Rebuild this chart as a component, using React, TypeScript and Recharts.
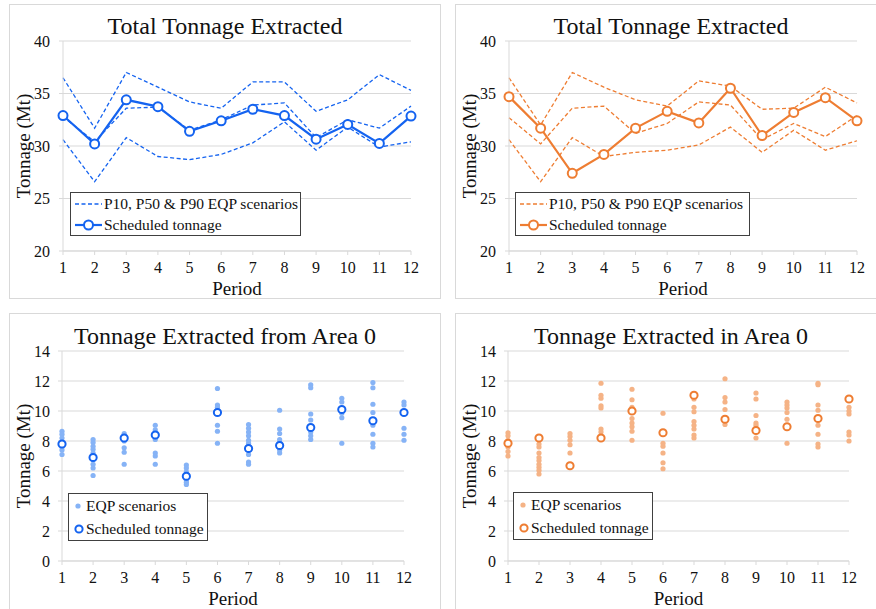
import React from "react";
import {
    CartesianGrid,
    Line,
    LineChart,
    Scatter,
    ScatterChart,
    XAxis,
    YAxis,
} from "recharts";

const periods = [1, 2, 3, 4, 5, 6, 7, 8, 9, 10, 11, 12];
const totalTicks = [20, 25, 30, 35, 40];
const areaTicks = [0, 2, 4, 6, 8, 10, 12, 14];

// total tonnage, blue panel (Mt)
const blueP90 = [36.5, 31.7, 37.0, 35.6, 34.2, 33.6, 36.1, 36.1, 33.3, 34.4, 36.8, 35.3];
const blueP50 = [32.8, 30.4, 33.6, 33.7, 31.5, 32.5, 33.9, 34.1, 30.8, 32.5, 31.7, 33.8];
const blueP10 = [30.6, 26.6, 30.8, 29.0, 28.7, 29.2, 30.3, 32.3, 29.6, 31.8, 29.9, 30.4];
const blueSched = [32.9, 30.2, 34.4, 33.75, 31.4, 32.4, 33.5, 32.9, 30.65, 32.05, 30.25, 32.85];

// total tonnage, orange panel (Mt)
const orangeP90 = [36.5, 32.0, 37.0, 35.6, 34.4, 33.8, 36.2, 35.7, 33.5, 33.6, 35.6, 34.1];
const orangeP50 = [32.7, 30.2, 33.6, 33.8, 31.2, 32.15, 34.2, 33.9, 30.6, 32.15, 30.9, 32.9];
const orangeP10 = [30.6, 26.6, 30.8, 29.0, 29.4, 29.6, 30.1, 31.8, 29.4, 31.5, 29.6, 30.5];
const orangeSched = [34.7, 31.7, 27.4, 29.2, 31.7, 33.3, 32.2, 35.5, 31.0, 33.2, 34.6, 32.4];

// area 0, EQP scenarios per period (Mt)
const blueScenarios = [
    [8.65, 8.45, 8.2, 7.9, 7.6, 7.4, 7.1],
    [8.1, 7.9, 7.65, 7.45, 7.2, 6.75, 6.45, 6.2, 5.7],
    [8.5, 8.3, 8.0, 7.55, 7.25, 6.45],
    [9.05, 8.75, 8.1, 7.2, 7.0, 6.45],
    [6.4, 6.2, 5.95, 5.4, 5.25, 5.1],
    [11.5, 10.4, 10.25, 9.05, 8.65, 7.85],
    [9.1, 8.85, 8.6, 8.35, 8.05, 7.85, 7.4, 7.1, 6.6, 6.45],
    [10.05, 8.8, 8.5, 8.1, 7.9, 7.4, 7.2],
    [11.75, 11.55, 9.8, 9.4, 8.6, 8.35, 8.1],
    [10.85, 10.6, 9.85, 9.55, 7.85],
    [11.9, 11.55, 10.45, 9.9, 9.05, 8.45, 7.85, 7.6],
    [10.6, 10.4, 8.85, 8.45, 8.05],
];
const blueAreaSched = [7.8, 6.9, 8.2, 8.4, 5.65, 9.9, 7.5, 7.7, 8.9, 10.1, 9.35, 9.9];

const orangeScenarios = [
    [8.55, 8.35, 8.05, 7.6, 7.3, 7.0],
    [7.8, 7.6, 7.2, 6.9, 6.7, 6.45, 6.25, 6.05, 5.8],
    [8.5, 8.3, 8.05, 7.75, 7.2],
    [11.85, 11.05, 10.85, 10.35, 10.2, 8.8, 8.6],
    [11.45, 10.75, 10.25, 9.5, 9.2, 8.95, 8.65, 8.05],
    [9.85, 7.85, 7.65, 7.2, 6.55, 6.15],
    [10.8, 10.25, 9.95, 9.3, 9.05, 8.8, 8.4, 8.2],
    [12.15, 10.9, 10.6, 10.1, 9.1],
    [11.2, 10.8, 9.7, 9.2, 9.05, 8.2],
    [10.6, 10.4, 10.2, 9.9, 9.45, 7.85],
    [11.85, 11.75, 10.4, 10.05, 9.05, 8.45, 7.8, 7.6],
    [10.25, 10.0, 9.8, 8.6, 8.4, 8.0],
];
const orangeAreaSched = [7.85, 8.2, 6.35, 8.2, 10.0, 8.55, 11.05, 9.45, 8.7, 8.95, 9.5, 10.8];

const FONT = '"Liberation Serif", "Times New Roman", serif';
const GRID = "#d9d9d9";
const BLUE = "#1463f0";
const BLUE_LIGHT = "#86b3f6";
const ORANGE = "#ee7d32";
const ORANGE_LIGHT = "#f5b386";

const tickStyle = { fontSize: 16, fill: "#111", fontFamily: FONT };

const lineRows = (p10: number[], p50: number[], p90: number[], sched: number[]) =>
    periods.map((period, i) => ({ period, p10: p10[i], p50: p50[i], p90: p90[i], sched: sched[i] }));

const scenarioPoints = (rows: number[][]) =>
    rows.flatMap((vals, i) => vals.map((t) => ({ period: periods[i], t })));

const schedPoints = (vals: number[]) => vals.map((t, i) => ({ period: periods[i], t }));

function YTitle(props: any) {
    const { viewBox } = props;
    const x = viewBox.x + 13.5;
    const y = viewBox.y + viewBox.height / 2;
    return (
        <text x={x} y={y} transform={`rotate(-90 ${x} ${y})`} textAnchor="middle" dominantBaseline="central"
            fontSize={19} fontFamily={FONT} fill="#111">
            Tonnage (Mt)
        </text>
    );
}

function XTitle(props: any) {
    const { viewBox } = props;
    return (
        <text x={viewBox.x + viewBox.width / 2} y={viewBox.y + 37} textAnchor="middle" dominantBaseline="central"
            fontSize={19} fontFamily={FONT} fill="#111">
            Period
        </text>
    );
}

function LegendBox({ left, top, width, rowH, items }: any) {
    return (
        <div style={{
            position: "absolute", left, top, zIndex: 3,
            width, border: "1px solid #404040", background: "#fff", boxSizing: "border-box",
            fontFamily: FONT, fontSize: 15.5, color: "#111",
        }}>
            {items.map((it: any) => (
                <div key={it.label} style={{ height: rowH, display: "flex", alignItems: "center", whiteSpace: "nowrap" }}>
                    {it.icon}
                    <span>{it.label}</span>
                </div>
            ))}
        </div>
    );
}

const lineIcons = (color: string) => [
    {
        label: "P10, P50 & P90 EQP scenarios",
        icon: (
            <svg width={33} height={12} style={{ flex: "none" }}>
                <line x1={4} y1={6} x2={31} y2={6} stroke={color} strokeWidth={1.3} strokeDasharray="4 2.5" />
            </svg>
        ),
    },
    {
        label: "Scheduled tonnage",
        icon: (
            <svg width={33} height={14} style={{ flex: "none" }}>
                <line x1={4} y1={7} x2={31} y2={7} stroke={color} strokeWidth={2.2} />
                <circle cx={17.5} cy={7} r={4.5} fill="#fff" stroke={color} strokeWidth={2} />
            </svg>
        ),
    },
];

const scatterIcons = (dot: string, ring: string) => [
    {
        label: "EQP scenarios",
        icon: (
            <svg width={17} height={12} style={{ flex: "none" }}>
                <circle cx={9} cy={6} r={2.6} fill={dot} />
            </svg>
        ),
    },
    {
        label: "Scheduled tonnage",
        icon: (
            <svg width={17} height={12} style={{ flex: "none" }}>
                <circle cx={10} cy={6} r={3.6} fill="#fff" stroke={ring} strokeWidth={2} />
            </svg>
        ),
    },
];

function Panel({ left, top, height, title, titleTop, legend, children }: any) {
    return (
        <div style={{
            position: "absolute", left, top, width: 432, height, boxSizing: "border-box",
            border: `1px solid ${GRID}`, background: "#fff",
        }}>
            <div style={{
                position: "absolute", left: 0, right: 0, top: titleTop, textAlign: "center",
                fontFamily: FONT, fontSize: 24, lineHeight: 1, color: "#111", zIndex: 2,
            }}>
                {title}
            </div>
            <div style={{ position: "absolute", left: 0, top: 0 }}>{children}</div>
            {legend}
        </div>
    );
}

function TotalChart({ rows, color }: any) {
    return (
        <LineChart width={430} height={293} data={rows} margin={{ top: 36, right: 29, bottom: 0, left: 0 }}>
            <CartesianGrid vertical={false} stroke={GRID} />
            <XAxis dataKey="period" type="number" domain={[1, 12]} ticks={periods} interval={0} height={47}
                stroke={GRID} tickSize={4} tickMargin={7} tick={tickStyle} label={<XTitle />} />
            <YAxis type="number" domain={[20, 40]} ticks={totalTicks} interval={0} width={53}
                stroke={GRID} tickSize={4} tickMargin={9} tick={tickStyle} label={<YTitle />} />
            <Line dataKey="p90" stroke={color} strokeWidth={1.3} strokeDasharray="4 2.5" dot={false} activeDot={false} isAnimationActive={false} />
            <Line dataKey="p50" stroke={color} strokeWidth={1.3} strokeDasharray="4 2.5" dot={false} activeDot={false} isAnimationActive={false} />
            <Line dataKey="p10" stroke={color} strokeWidth={1.3} strokeDasharray="4 2.5" dot={false} activeDot={false} isAnimationActive={false} />
            <Line dataKey="sched" stroke={color} strokeWidth={2.2} dot={{ r: 4.5, fill: "#fff", stroke: color, strokeWidth: 2 }}
                activeDot={false} isAnimationActive={false} />
        </LineChart>
    );
}

function AreaChart0({ scen, sched, dot, ring, rightMargin }: any) {
    return (
        <ScatterChart width={430} height={300} margin={{ top: 37, right: rightMargin, bottom: 0, left: 0 }}>
            <CartesianGrid vertical={false} stroke={GRID} />
            <XAxis dataKey="period" type="number" domain={[1, 12]} ticks={periods} interval={0} height={53}
                stroke={GRID} tickSize={4} tickMargin={7} tick={tickStyle} label={<XTitle />} />
            <YAxis dataKey="t" type="number" domain={[0, 14]} ticks={areaTicks} interval={0} width={52}
                stroke={GRID} tickSize={4} tickMargin={8} tick={tickStyle} label={<YTitle />} />
            <Scatter data={scen} isAnimationActive={false}
                shape={(p: any) => <circle cx={p.cx} cy={p.cy} r={2.6} fill={dot} />} />
            <Scatter data={sched} isAnimationActive={false}
                shape={(p: any) => <circle cx={p.cx} cy={p.cy} r={3.6} fill="#fff" stroke={ring} strokeWidth={2} />} />
        </ScatterChart>
    );
}

export default function App() {
    return (
        <div style={{ position: "absolute", left: 0, top: 0, width: 876, height: 609, overflow: "hidden", background: "#fff" }}>
            <Panel left={9} top={4} height={295} title="Total Tonnage Extracted" titleTop={8.8}
                legend={<LegendBox left={60} top={187} width={231} rowH={21} items={lineIcons(BLUE)} />}>
                <TotalChart rows={lineRows(blueP10, blueP50, blueP90, blueSched)} color={BLUE} />
            </Panel>
            <Panel left={455} top={4} height={295} title="Total Tonnage Extracted" titleTop={8.8}
                legend={<LegendBox left={59} top={187} width={235} rowH={21} items={lineIcons(ORANGE)} />}>
                <TotalChart rows={lineRows(orangeP10, orangeP50, orangeP90, orangeSched)} color={ORANGE} />
            </Panel>
            <Panel left={9} top={313} height={320} title="Tonnage Extracted from Area 0" titleTop={9.8}
                legend={<LegendBox left={58} top={179} width={140} rowH={23} items={scatterIcons(BLUE_LIGHT, BLUE)} />}>
                <AreaChart0 scen={scenarioPoints(blueScenarios)} sched={schedPoints(blueAreaSched)}
                    dot={BLUE_LIGHT} ring={BLUE} rightMargin={36} />
            </Panel>
            <Panel left={455} top={313} height={320} title="Tonnage Extracted in Area 0" titleTop={9.8}
                legend={<LegendBox left={57} top={178} width={140} rowH={23} items={scatterIcons(ORANGE_LIGHT, ORANGE)} />}>
                <AreaChart0 scen={scenarioPoints(orangeScenarios)} sched={schedPoints(orangeAreaSched)}
                    dot={ORANGE_LIGHT} ring={ORANGE} rightMargin={37} />
            </Panel>
        </div>
    );
}
